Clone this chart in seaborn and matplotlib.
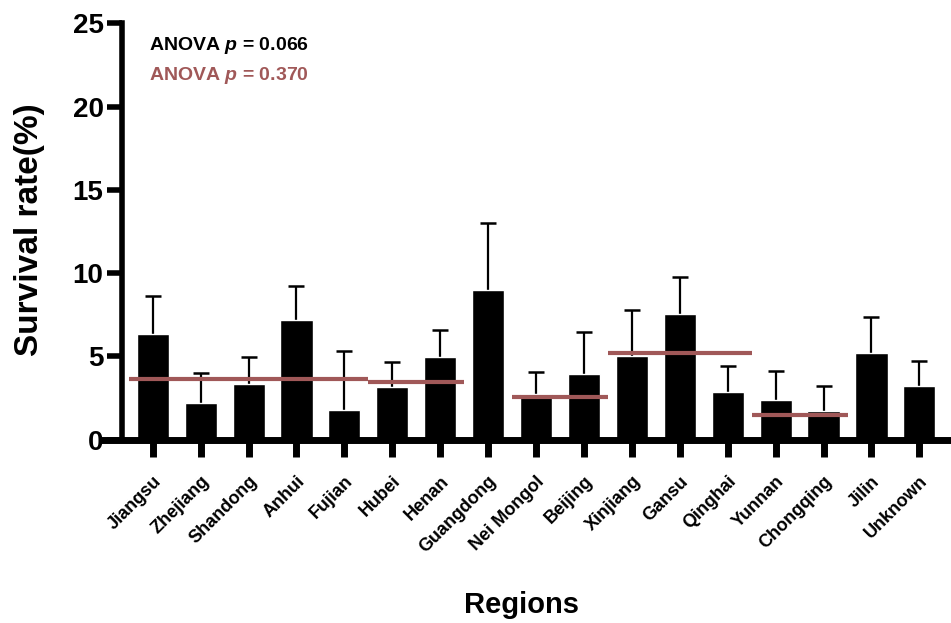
import numpy as np
import pandas as pd
import matplotlib
matplotlib.use("Agg")
import matplotlib.pyplot as plt
import seaborn as sns

# bar data
regions = ["Jiangsu", "Zhejiang", "Shandong", "Anhui", "Fujian", "Hubei", "Henan",
           "Guangdong", "Nei Mongol", "Beijing", "Xinjiang", "Gansu", "Qinghai",
           "Yunnan", "Chongqing", "Jilin", "Unknown"]
rate = [6.32, 2.21, 3.32, 7.20, 1.75, 3.17, 4.96, 8.98, 2.75, 3.94, 5.04, 7.54,
        2.87, 2.36, 1.69, 5.22, 3.23]
err = [2.30, 1.80, 1.62, 2.04, 3.59, 1.49, 1.60, 4.01, 1.32, 2.54, 2.74, 2.23,
       1.53, 1.77, 1.53, 2.14, 1.47]

# group means (red lines): first and last region index of each group
grp_first = [0, 5, 8, 10, 13]
grp_last = [4, 6, 9, 12, 14]
grp_mean = [3.65, 3.44, 2.55, 5.22, 1.45]

anova_all = "0.066"
anova_grp = "0.370"

red = "#A05858"

sns.set_theme(style="ticks")
plt.rcParams["font.family"] = ["Liberation Sans", "DejaVu Sans"]
plt.rcParams["font.weight"] = "bold"
plt.rcParams["text.color"] = "black"
plt.rcParams["mathtext.fontset"] = "custom"
plt.rcParams["mathtext.it"] = "Liberation Sans:italic:bold"
plt.rcParams["mathtext.rm"] = "Liberation Sans:bold"

fig = plt.figure(figsize=(9.51, 6.23), dpi=100)
ax = fig.add_axes([0.108, 0.2945, 0.892, 0.6678])

df = pd.DataFrame({"region": regions, "rate": rate})
sns.barplot(data=df, x="region", y="rate", color="black", width=0.67,
            saturation=1, errorbar=None, ax=ax, zorder=2)

# upper error bars only
xs = np.arange(len(regions))
tops = np.array(rate) + np.array(err)
ax.vlines(xs, rate, tops, color="black", lw=1.6, zorder=1)
ax.plot(xs, tops, ls="none", marker="_", ms=12, mew=1.8, color="black", zorder=1)

for a, b, m in zip(grp_first, grp_last, grp_mean):
    ax.hlines(m, a - 0.5, b + 0.5, color=red, lw=3, zorder=4)

ax.set_xlim(-1.044, 16.66)
ax.set_ylim(0, 25)
ax.set_yticks([0, 5, 10, 15, 20, 25])

for s in ["top", "right"]:
    ax.spines[s].set_visible(False)
ax.spines["left"].set_position(("data", -0.65))
ax.spines["left"].set_linewidth(4)
ax.spines["bottom"].set_linewidth(5)
for s in ["left", "bottom"]:
    ax.spines[s].set_color("black")
    ax.spines[s].set_zorder(5)

ax.tick_params(axis="y", length=11, width=4, labelsize=20, pad=2,
               color="black", labelcolor="black")
ax.tick_params(axis="x", length=12, width=5, labelsize=13, pad=12,
               color="black", labelcolor="black")
plt.setp(ax.get_xticklabels(), rotation=45, ha="right", rotation_mode="anchor",
         fontweight="bold")
plt.setp(ax.get_yticklabels(), fontweight="bold")
ax.set_xlabel("")
ax.set_ylabel("")

ax.text(-0.08, 23.4, "ANOVA $p$ = " + anova_all, fontsize=14, fontweight="bold",
        color="black", va="baseline")
ax.text(-0.08, 21.6, "ANOVA $p$ = " + anova_grp, fontsize=14, fontweight="bold",
        color=red, va="baseline")

fig.text(30 / 951, 1 - 230 / 623, "Survival rate(%)", rotation=90, fontsize=24,
         fontweight="bold", ha="center", va="center", color="black")
fig.text(522 / 951, 1 - 605 / 623, "Regions", fontsize=21, fontweight="bold",
         ha="center", va="center", color="black")

fig.savefig("out.png", dpi=100)
